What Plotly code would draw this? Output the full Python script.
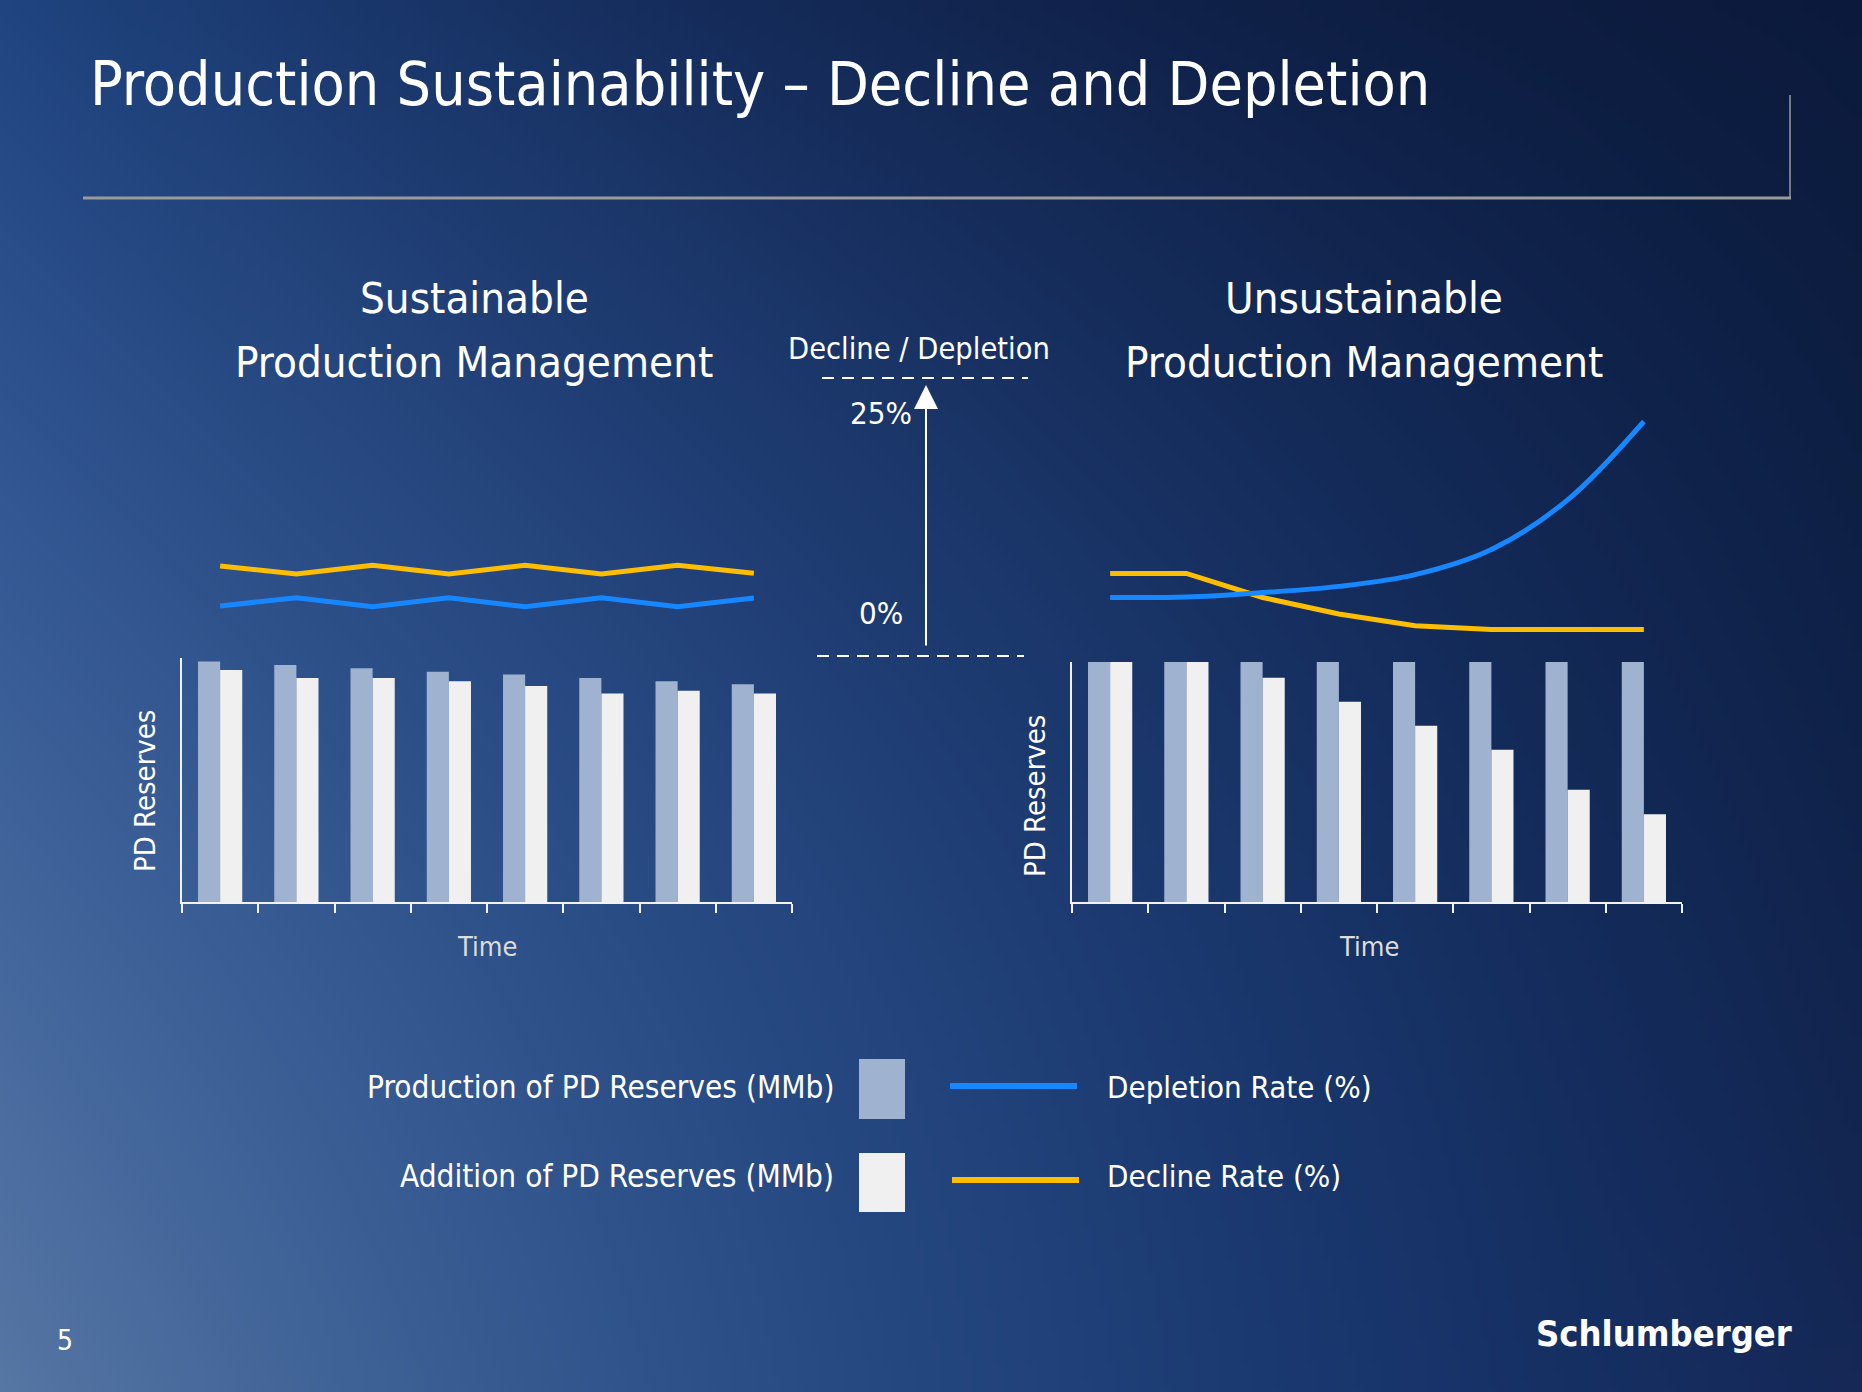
import base64
import struct
import zlib

import numpy as np
import plotly.graph_objects as go

# ---------------- data ----------------
periods = [0, 1, 2, 3, 4, 5, 6, 7]          # time steps (unlabelled in the slide)

sust_production = [100, 98.6, 97.2, 95.8, 94.6, 93.2, 91.8, 90.6]
sust_addition = [96.5, 93.2, 93.2, 91.8, 89.9, 86.7, 87.9, 86.7]
sust_depletion = [4.45, 5.20, 4.39, 5.20, 4.39, 5.20, 4.39, 5.17]
sust_decline = [8.05, 7.33, 8.11, 7.33, 8.11, 7.33, 8.11, 7.39]

unsust_production = [100, 100, 100, 100, 100, 100, 100, 100]
unsust_addition = [100, 100, 93.4, 83.4, 73.4, 63.4, 46.8, 36.6]
unsust_depletion = [5.22, 5.26, 5.66, 6.22, 7.28, 9.54, 14.0, 21.05]
unsust_decline = [7.38, 7.38, 5.22, 3.73, 2.67, 2.34, 2.34, 2.34]

rate_scale_labels = ["0%", "25%"]
rate_scale_values = [0, 25]

# ---------------- styling ----------------
W, H = 1862, 1392
FONT = "DejaVu Sans Condensed, Liberation Sans Narrow, Arial Narrow, sans-serif"
C_PROD = "#9FB2D0"
C_ADD = "#F0F0F0"
C_DEPL = "#1687FF"
C_DECL = "#FDBD00"
C_AXIS = "#F2F2F2"


def px(x):
    return x / W


def py(y):
    return 1 - y / H


# ---------------- background gradient (PNG built with stdlib) ----------------
def hex2rgb(h):
    return np.array([int(h[i:i + 2], 16) for i in (1, 3, 5)], float)


grid = [["#1F4480", "#122651", "#0B1A3C"],
        ["#3A5E97", "#1E3C72", "#0F2148"],
        ["#5676A3", "#24467F", "#152856"]]
G = np.array([[hex2rgb(c) for c in row] for row in grid])
gw, gh = 233, 174
u = np.linspace(0, 1, gw)
v = np.linspace(0, 1, gh)


def lag(t):
    return np.stack([2 * (t - 0.5) * (t - 1), -4 * t * (t - 1), 2 * t * (t - 0.5)], axis=-1)


Lu, Lv = lag(u), lag(v)
img = np.einsum("yi,xj,ijc->yxc", Lv, Lu, G)
img = np.clip(np.round(img), 0, 255).astype(np.uint8)


def png_bytes(arr):
    h_, w_, _ = arr.shape
    raw = b"".join(b"\x00" + arr[r].tobytes() for r in range(h_))

    def chunk(t, d):
        return struct.pack(">I", len(d)) + t + d + struct.pack(">I", zlib.crc32(t + d) & 0xFFFFFFFF)

    return (b"\x89PNG\r\n\x1a\n"
            + chunk(b"IHDR", struct.pack(">IIBBBBB", w_, h_, 8, 2, 0, 0, 0))
            + chunk(b"IDAT", zlib.compress(raw, 9))
            + chunk(b"IEND", b""))


bg_uri = "data:image/png;base64," + base64.b64encode(png_bytes(img)).decode()

# ---------------- figure ----------------
fig = go.Figure()

# bars
fig.add_trace(go.Bar(x=periods, y=sust_production, marker=dict(color=C_PROD, line=dict(width=0)),
                     xaxis="x", yaxis="y", name="Production of PD Reserves (MMb)"))
fig.add_trace(go.Bar(x=periods, y=sust_addition, marker=dict(color=C_ADD, line=dict(width=0)),
                     xaxis="x", yaxis="y", name="Addition of PD Reserves (MMb)"))
fig.add_trace(go.Bar(x=periods, y=unsust_production, marker=dict(color=C_PROD, line=dict(width=0)),
                     xaxis="x2", yaxis="y2", name="Production of PD Reserves (MMb)"))
fig.add_trace(go.Bar(x=periods, y=unsust_addition, marker=dict(color=C_ADD, line=dict(width=0)),
                     xaxis="x2", yaxis="y2", name="Addition of PD Reserves (MMb)"))

# rate lines
fig.add_trace(go.Scatter(x=periods, y=sust_decline, mode="lines", line=dict(color=C_DECL, width=5),
                         xaxis="x", yaxis="y3", name="Decline Rate (%)"))
fig.add_trace(go.Scatter(x=periods, y=sust_depletion, mode="lines", line=dict(color=C_DEPL, width=5),
                         xaxis="x", yaxis="y3", name="Depletion Rate (%)"))
fig.add_trace(go.Scatter(x=periods, y=unsust_decline, mode="lines", line=dict(color=C_DECL, width=5),
                         xaxis="x2", yaxis="y4", name="Decline Rate (%)"))
fig.add_trace(go.Scatter(x=periods, y=unsust_depletion, mode="lines",
                         line=dict(color=C_DEPL, width=5, shape="spline", smoothing=1.0),
                         xaxis="x2", yaxis="y4", name="Depletion Rate (%)"))

tick_bounds = [p - 0.5 for p in periods] + [periods[-1] + 0.5]
xcommon = dict(range=[-0.5, 7.5], showline=True, linecolor=C_AXIS, linewidth=2,
               ticks="outside", tickvals=tick_bounds, ticklen=9, tickwidth=2, tickcolor=C_AXIS,
               showticklabels=False, showgrid=False, zeroline=False, fixedrange=True)
ycommon = dict(showline=True, linecolor=C_AXIS, linewidth=2, ticks="", showticklabels=False,
               showgrid=False, zeroline=False, fixedrange=True)
rate_dom = [py(655.5), py(377.6)]

fig.update_layout(
    width=W, height=H, autosize=False,
    margin=dict(l=0, r=0, t=0, b=0, pad=0),
    paper_bgcolor="#1B3566", plot_bgcolor="rgba(0,0,0,0)",
    showlegend=False, barmode="group", bargap=0.42, bargroupgap=0,
    font=dict(family=FONT, color="white"),
    xaxis=dict(domain=[px(182), px(792)], anchor="y", **xcommon),
    yaxis=dict(domain=[py(902), py(658)], range=[0, 101.5], anchor="x", **ycommon),
    xaxis2=dict(domain=[px(1072), px(1682)], anchor="y2", **xcommon),
    yaxis2=dict(domain=[py(902), py(662)], range=[0, 100], anchor="x2", **ycommon),
    yaxis3=dict(domain=rate_dom, range=rate_scale_values, anchor="x", visible=False, fixedrange=True),
    yaxis4=dict(domain=rate_dom, range=rate_scale_values, anchor="x2", visible=False, fixedrange=True),
    images=[dict(source=bg_uri, xref="paper", yref="paper", x=0, y=1, sizex=1, sizey=1,
                 sizing="stretch", layer="below", xanchor="left", yanchor="top")],
)

shapes = []
# title rule lines
shapes.append(dict(type="line", xref="paper", yref="paper", x0=px(83), x1=px(1791), y0=py(198), y1=py(198),
                   line=dict(color="#9A9A9A", width=3)))
shapes.append(dict(type="line", xref="paper", yref="paper", x0=px(1790), x1=px(1790), y0=py(95), y1=py(198),
                   line=dict(color="#9A9A9A", width=1.5)))
# dashed guide lines of the rate scale
shapes.append(dict(type="line", xref="paper", yref="paper", x0=px(822), x1=px(1028), y0=py(378), y1=py(378),
                   line=dict(color="white", width=2, dash="12px,8px")))
shapes.append(dict(type="line", xref="paper", yref="paper", x0=px(817), x1=px(1024), y0=py(656), y1=py(656),
                   line=dict(color="white", width=2, dash="12px,8px")))
# legend swatches
shapes.append(dict(type="rect", xref="paper", yref="paper", x0=px(859), x1=px(905), y0=py(1119), y1=py(1059),
                   fillcolor=C_PROD, line=dict(width=0)))
shapes.append(dict(type="rect", xref="paper", yref="paper", x0=px(859), x1=px(905), y0=py(1212), y1=py(1153),
                   fillcolor=C_ADD, line=dict(width=0)))
shapes.append(dict(type="line", xref="paper", yref="paper", x0=px(950), x1=px(1077), y0=py(1086), y1=py(1086),
                   line=dict(color=C_DEPL, width=6)))
shapes.append(dict(type="line", xref="paper", yref="paper", x0=px(952), x1=px(1079), y0=py(1180), y1=py(1180),
                   line=dict(color=C_DECL, width=6)))
fig.update_layout(shapes=shapes)

ann = []


def text(t, x, y, size, xanchor="center", color="white", angle=0, bold=False):
    ann.append(dict(text=("<b>%s</b>" % t) if bold else t, x=px(x), y=py(y), xref="paper", yref="paper",
                    xanchor=xanchor, yanchor="middle", showarrow=False, textangle=angle,
                    font=dict(family=FONT, size=size, color=color)))


text("Production Sustainability \u2013 Decline and Depletion", 88, 84, 60.5, xanchor="left")
text("Sustainable", 474, 298, 43.5)
text("Production Management", 474, 362, 43.5)
text("Unsustainable", 1364, 298, 43.5)
text("Production Management", 1364, 362, 43.5)
text("Decline / Depletion", 919, 349, 30.5)
text(rate_scale_labels[1], 881, 413, 31)
text(rate_scale_labels[0], 881, 613, 31)
text("PD Reserves", 145, 791, 29, angle=-90)
text("PD Reserves", 1035, 796, 29, angle=-90)
text("Time", 487, 946, 27, color="#DDDDDD")
text("Time", 1369, 946, 27, color="#DDDDDD")
text("Production of PD Reserves (MMb)", 836, 1087, 31.3, xanchor="right")
text("Addition of PD Reserves (MMb)", 836, 1176, 31.3, xanchor="right")
text("Depletion Rate (%)", 1105, 1087, 31, xanchor="left")
text("Decline Rate (%)", 1105, 1176, 31, xanchor="left")
text("5", 65, 1340, 28)
text("Schlumberger", 1664, 1333, 36, bold=True)

# arrow of the rate scale
ann.append(dict(x=px(926), y=py(385), xref="paper", yref="paper", ax=0, ay=262, axref="pixel", ayref="pixel",
                text="", showarrow=True, arrowhead=2, arrowsize=2.4, arrowwidth=2, arrowcolor="white"))
fig.update_layout(annotations=ann)

fig.write_html("out.html", config={"displayModeBar": False},
               post_script="document.body.style.margin='0';document.body.style.overflow='hidden';")
